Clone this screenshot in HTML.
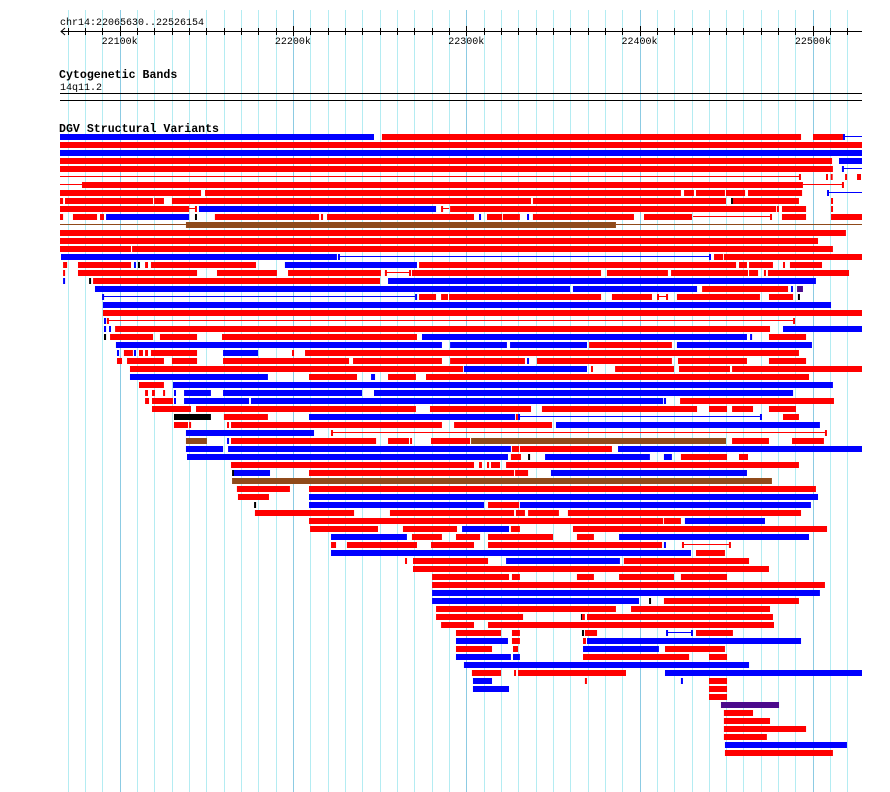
<!DOCTYPE html>
<html><head><meta charset="utf-8"><style>
html,body{margin:0;padding:0;background:#fff;width:890px;height:792px;overflow:hidden}
svg{display:block}
text{font-family:"Liberation Mono",monospace}
</style></head><body>
<svg id="chart" width="890" height="792" viewBox="0 0 890 792" xmlns="http://www.w3.org/2000/svg">
<g id="grid"></g>
<text x="60" y="25" font-size="10">chr14:22065630..22526154</text>
<g id="axis"></g>
<text x="59" y="78" font-size="11.6" font-weight="bold">Cytogenetic Bands</text>
<text x="60" y="90" font-size="10">14q11.2</text>
<rect x="60" y="93" width="802" height="1" fill="#000"/>
<rect x="60" y="100" width="802" height="1" fill="#000"/>
<text x="59" y="132" font-size="11.6" font-weight="bold">DGV Structural Variants</text>
<g id="feats"></g>
</svg>
<script>
const viewStartKb = 22031;
const tickKb = [22100, 22200, 22300, 22400, 22500];
const tickLabels = ["22100k", "22200k", "22300k", "22400k", "22500k"];
const gridKb = [22070,22080,22090,22100,22110,22120,22130,22140,22150,22160,22170,22180,22190,22200,22210,22220,22230,22240,22250,22260,22270,22280,22290,22300,22310,22320,22330,22340,22350,22360,22370,22380,22390,22400,22410,22420,22430,22440,22450,22460,22470,22480,22490,22500,22510,22520];
const svRow = [
0,0,0,0,0,
1,
2,
3,3,
4,4,4,
5,5,5,5,5,5,
6,6,6,6,
7,7,7,7,7,7,7,7,
8,8,8,8,8,8,8,8,
9,9,9,9,9,9,9,9,9,9,
10,10,10,10,10,10,10,10,10,10,10,10,10,10,10,10,10,10,
11,11,11,
12,
13,
14,14,
15,15,15,15,15,15,
16,16,16,16,16,16,16,16,16,16,16,16,
17,17,17,17,17,17,17,17,17,17,17,17,17,
18,18,18,18,
19,19,19,19,19,
20,20,20,20,20,20,20,20,20,20,20,20,20,
21,
22,
23,23,23,23,
24,24,24,24,
25,25,25,25,25,25,25,
26,26,26,26,26,
27,27,27,27,27,27,27,27,27,
28,28,28,28,28,28,28,28,28,28,
29,29,29,29,29,29,
30,30,30,30,30,
31,31,
32,32,32,32,32,32,32,
33,33,33,33,33,33,33,
34,34,34,34,34,34,34,
35,35,35,35,35,35,35,35,
36,36,36,36,36,36,
37,37,37,37,
38,38,38,38,38,38,38,38,38,
39,39,39,39,39,
40,40,40,40,40,40,40,
41,41,41,41,41,
42,42,42,42,42,
43,
44,44,
45,45,
46,46,46,46,
47,47,47,47,47,
48,48,48,
49,49,49,49,49,
50,50,50,50,50,50,
51,51,51,51,51,51,51,51,
52,52,
53,53,53,53,
54,
55,55,55,55,55,
56,
57,
58,58,58,
59,59,
60,60,60,60,
61,61,
62,62,62,62,62,62,62,62,
63,63,63,63,
64,64,64,64,
65,65,65,65,
66,
67,67,67,67,
68,68,68,68,
69,69,
70,
71,
72,
73,
74,
75,
76,
77];
const svStart = [
22065,22251.4,22500.1,22517.4,22517.4,
22065,
22065,
22065,22515.1,
22065,22516.8,22516.8,
22065,22492,22507.6,22510.3,22518.6,22525.5,
22065,22078.3,22494.3,22516.8,
22065,22149.3,22425.7,22432.6,22449.9,22462.6,22508.2,22508.2,
22065,22068.5,22119.9,22130.2,22338.5,22452.8,22453.9,22510.5,
22065,22140.1,22143.5,22145.8,22285.5,22285.5,22290.7,22479.3,22482.2,22510.5,
22065,22073.1,22088.7,22092.2,22143.5,22155,22216.2,22219.7,22307.4,22312,22321.2,22335.1,22338.5,22402.6,22430.9,22475.3,22482.2,22510.5,
22065,22138.3,22386.4,
22065,
22065,
22065,22107.2,
22066.2,22226,22226,22440.1,22443,22448.7,
22067.4,22076,22108.3,22110.6,22114.7,22118.1,22195.4,22272.8,22457.4,22463.2,22482.8,22486.8,
22067.4,22076,22156.2,22197.2,22253.1,22253.1,22267,22268.7,22381.2,22418.2,22463.2,22471.8,22474.1,
22067.4,22082.4,22084.7,22254.9,
22085.8,22361.6,22436.1,22487.4,22490.9,
22089.9,22089.9,22270.5,22272.8,22285.5,22290.1,22384.1,22410.1,22410.1,22415.3,22421.6,22474.7,22491.4,
22090.4,
22090.4,
22091,22092.7,22092.7,22488.6,
22091,22093.9,22097.4,22482.8,
22091,22094.5,22123.3,22159.1,22274.5,22463.8,22474.7,
22097.9,22290.7,22325.3,22370.9,22421.6,
22098.5,22102.5,22108.3,22111.2,22114.7,22118.1,22159.7,22199.5,22207,
22098.5,22104.3,22130.2,22159.7,22234.7,22290.7,22335.1,22340.8,22422.2,22474.7,
22106,22298.7,22372,22385.9,22422.8,22453.4,
22106,22209.3,22245.1,22254.9,22276.8,
22111.2,22130.8,
22114.7,22118.7,22125.1,22131.4,22137.2,22159.7,22246.8,
22114.7,22118.7,22131.4,22137.2,22175.8,22414.1,22423.4,
22118.7,22144.1,22279.1,22343.7,22440.1,22453.4,22474.7,
22131.4,22160.2,22209.3,22328.7,22329.9,22329.9,22469.5,22482.8,
22131.4,22140.1,22162,22164.3,22293,22351.8,
22138.3,22222,22222,22507,
22138.3,22162,22164.3,22254.9,22267.6,22279.7,22302.8,22453.4,22488,
22138.3,22162.6,22326.4,22331,22387.6,
22138.9,22325.8,22335.7,22345.5,22414.1,22423.9,22457.4,
22164.3,22307.4,22312,22314.3,22323,
22164.9,22166,22209.3,22328.2,22348.9,
22164.9,
22167.7,22209.3,
22168.3,22209.3,
22177.6,22209.3,22312.6,22331,
22178.1,22256,22328.7,22335.7,22358.7,
22209.3,22414.1,22426.2,
22209.9,22263.5,22297.6,22325.8,22361.6,
22222,22268.7,22294.1,22312.6,22363.9,22388.2,
22222,22231.2,22279.7,22312.6,22414.1,22424.5,22424.5,22451.6,
22222,22432.6,
22264.7,22269.3,22323,22391,
22269.3,
22280.3,22326.4,22363.9,22388.2,22423.9,
22280.3,
22280.3,
22280.3,22405.5,22414.1,
22282.6,22395.1,
22282.6,22366.2,22366.8,22369.7,
22285.5,22312.6,
22294.1,22326.4,22366.8,22368.5,22415.3,22415.3,22429.7,22432.6,
22294.1,22326.4,22367.4,22369.7,
22294.1,22327,22367.4,22414.7,
22294.1,22327,22367.4,22440.1,
22298.7,
22303.3,22327.6,22329.9,22414.7,
22303.9,22368.5,22423.9,22440.1,
22303.9,22440.1,
22440.1,
22447,
22448.7,
22448.7,
22448.7,
22448.7,
22449.3,
22449.3];
const svEnd = [
22246.8,22493.2,22517.4,22517.4,22528.4,
22528.4,
22528.4,
22511.1,22528.4,
22511.6,22516.8,22528.4,
22492,22492,22507.6,22510.3,22518.6,22527.8,
22078.3,22494.3,22516.8,22516.8,
22147,22423.9,22431.4,22449.3,22460.9,22493.8,22508.2,22528.4,
22067.4,22119.3,22125.6,22337.4,22449.9,22452.8,22492,22510.5,
22140.1,22143.5,22143.5,22282.6,22285.5,22290.1,22478.8,22479.3,22496.1,22510.5,
22067.4,22087,22091,22140.1,22143.5,22215.1,22217.4,22304.5,22308.5,22320.7,22331,22336.2,22396.8,22430.3,22475.3,22475.3,22496.1,22528.4,
22138.3,22386.4,22528.4,
22519.1,
22503,
22106.6,22511.6,
22225.4,22226,22440.1,22440.1,22448.2,22528.4,
22069.7,22106.6,22108.3,22110.6,22116.4,22178.7,22271.6,22455.7,22462,22477,22482.8,22505.3,
22067.4,22144.7,22190.8,22250.8,22253.1,22267,22267,22377.8,22416.4,22462.6,22468.4,22471.8,22520.9,
22068.5,22082.4,22250.3,22501.8,
22359.9,22433.2,22485.7,22487.4,22494.3,
22089.9,22270.5,22270.5,22282.6,22289.5,22377.8,22407.2,22410.1,22415.3,22415.3,22469.5,22488.6,22491.4,
22510.5,
22528.4,
22092.2,22092.7,22488.6,22488.6,
22092.2,22095,22475.3,22528.4,
22092.2,22119.3,22144.7,22271.6,22462,22463.8,22496.1,
22286,22323.5,22369.7,22418.7,22499.5,
22099.7,22107.7,22109.5,22113.5,22116.4,22144.7,22179.9,22200.6,22492,
22101.4,22125.6,22144.7,22232.4,22286,22333.9,22336.2,22418.7,22462,22496.1,
22298.2,22369.7,22372.6,22419.9,22452.2,22528.4,
22185.6,22237,22247.4,22271,22497.8,
22125.6,22511.6,
22116.4,22120.4,22125.6,22132,22152.7,22239.9,22488.6,
22117,22130.8,22132,22174.7,22413.6,22415.3,22512.2,
22141.2,22271,22337.4,22433.2,22450.5,22465.5,22490.3,
22152.7,22185.6,22328.2,22328.7,22329.9,22469.5,22469.5,22492,
22139.5,22140.6,22163.1,22286,22349.5,22504.1,
22212.2,22222,22507,22507,
22150.4,22162.6,22248,22267,22267.6,22302.2,22449.9,22474.7,22506.4,
22159.7,22325.8,22330.5,22384.1,22528.4,
22324.1,22331.6,22335.7,22406,22418.7,22450.5,22462.6,
22304.5,22309.1,22313.2,22319.5,22492,
22165.4,22186.8,22327.6,22335.7,22462,
22476.4,
22198.3,22501.8,
22186.2,22503,
22178.7,22310.3,22330.5,22498.9,
22235.3,22327.6,22333.9,22353.5,22493.2,
22413.6,22423.9,22472.4,
22249.1,22294.7,22324.7,22331,22508.2,
22265.8,22286,22308,22350.1,22373.7,22497.8,
22224.9,22271.6,22304.5,22413,22414.1,22424.5,22451.6,22451.6,
22429.7,22449.3,
22265.8,22312.6,22388.7,22463.2,
22474.7,
22324.7,22331,22373.7,22419.9,22450.5,
22507,
22504.1,
22399.7,22405.5,22492,
22386.4,22475.3,
22332.8,22366.2,22368.5,22477,
22304.5,22477.6,
22320.1,22331,22366.8,22375.5,22415.3,22429.7,22429.7,22453.9,
22324.1,22331,22369.1,22493.2,
22314.9,22329.9,22411.2,22449.3,
22325.8,22331,22428.6,22450.5,
22463.2,
22320.1,22328.7,22392.2,22528.4,
22314.9,22369.1,22424.5,22450.5,
22324.7,22450.5,
22450.5,
22480.5,
22465.5,
22475.3,
22496.1,
22473.5,
22519.7,
22511.6];
const svKind = [
"b","r","r","b","B",
"r",
"b",
"r","b",
"r","b","B",
"R","r","r","r","r","r",
"R","r","R","r",
"r","r","r","r","r","r","b","B",
"r","r","r","r","r","k","r","r",
"r","R","r","b","r","R","r","r","r","r",
"r","r","r","b","k","r","r","r","b","r","r","b","r","r","R","r","r","r",
"N","n","N",
"r",
"r",
"r","r",
"b","b","B","b","r","r",
"r","r","b","k","r","r","b","r","r","r","r","r",
"r","r","r","r","r","R","r","r","r","r","r","r","r",
"b","k","r","b",
"b","b","r","b","p",
"b","B","b","r","r","r","r","r","R","r","r","r","k",
"b",
"r",
"b","r","R","r",
"b","b","r","b",
"k","r","r","r","b","b","r",
"b","b","b","r","b",
"b","r","b","r","r","r","b","r","r",
"r","r","r","r","r","r","b","r","r","r",
"r","b","r","r","r","r",
"b","r","b","r","r",
"r","b",
"r","r","r","b","b","b","b",
"r","r","b","b","b","b","r",
"r","r","r","r","r","r","r",
"k","r","b","r","b","B","b","r",
"r","r","r","r","r","b",
"b","r","R","r",
"n","b","r","r","r","r","n","r","r",
"b","b","r","r","b",
"b","r","k","b","b","r","r",
"r","r","r","r","r",
"k","b","r","r","b",
"n",
"r","r",
"r","b",
"k","b","r","b",
"r","r","r","r","r",
"r","r","b",
"r","r","b","r","r",
"b","r","r","r","r","b",
"r","r","r","r","b","r","R","r",
"b","r",
"r","r","b","r",
"r",
"r","r","r","r","r",
"r",
"b",
"b","k","r",
"r","r",
"r","k","r","r",
"r","r",
"r","r","k","r","b","B","b","r",
"b","r","r","b",
"r","r","b","r",
"b","b","r","r",
"b",
"r","r","r","b",
"b","r","b","r",
"b","r",
"r",
"p",
"r",
"r",
"r",
"r",
"b",
"r"];

const NS = "http://www.w3.org/2000/svg";
const TRACK_L = 60, TRACK_R = 862, ROW_TOP = 134, ROW_PITCH = 8, BAR_H = 6;
const PX_PER_KB = 1.7331;
function xScale(kb){ return (kb - viewStartKb) * PX_PER_KB; }
function yScale(row){ return ROW_TOP + row * ROW_PITCH; }
const colors = {r:"#ff0000", b:"#0000ff", k:"#000000", n:"#904a1a", p:"#4b0a8c", R:"#ff0000", B:"#0000ff", N:"#904a1a"};

function mk(tag, attrs){ const e = document.createElementNS(NS, tag); for (const k in attrs) e.setAttribute(k, attrs[k]); return e; }

// grid
const grid = document.getElementById("grid");
gridKb.forEach(function(kb){
  const x = Math.round(xScale(kb));
  const major = kb % 100 === 0;
  const l = mk("rect", {x: x, y: 10, width: 1, height: 782, fill: major ? "#8ccbe3" : "#b4ecf2"});
  
  
  grid.appendChild(l);
});

// axis
const axis = document.getElementById("axis");
const axLine = mk("rect", {x: 61, y: 31, width: TRACK_R - 61, height: 1, fill: "#000"});


axis.appendChild(axLine);
const arrow = mk("path", {d: "M65 28 L61 31.5 L65 35", stroke: "#000", fill: "none", "stroke-width": 1});


axis.appendChild(arrow);
gridKb.forEach(function(kb){
  const x = Math.round(xScale(kb));
  const major = kb % 100 === 0;
  const t = mk("rect", {x: x, y: major ? 26 : 28, width: 1, height: major ? 10 : 7, fill: "#000"});
  
  
  axis.appendChild(t);
});
tickKb.forEach(function(kb, i){
  const t = mk("text", {x: xScale(kb), y: 44, "font-size": 10, "text-anchor": "middle"});
  t.textContent = tickLabels[i];
  
  
  axis.appendChild(t);
});

// features
const feats = document.getElementById("feats");
for (let i = 0; i < svStart.length; i++){
  const kind = svKind[i];
  let x1 = Math.max(TRACK_L, xScale(svStart[i]));
  let x2 = Math.min(TRACK_R, xScale(svEnd[i]));
  const y = yScale(svRow[i]);
  let el;
  if (kind === "R" || kind === "B" || kind === "N"){
    el = mk("rect", {x: x1, y: y + 2, width: Math.max(1, x2 - x1), height: 1, fill: colors[kind]});
    
    
  } else {
    const w = Math.max(2, x2 - x1);
    el = mk("rect", {x: x1, y: y, width: w, height: BAR_H, fill: colors[kind]});
    
    
  }
  feats.appendChild(el);
}
</script>
</body></html>
